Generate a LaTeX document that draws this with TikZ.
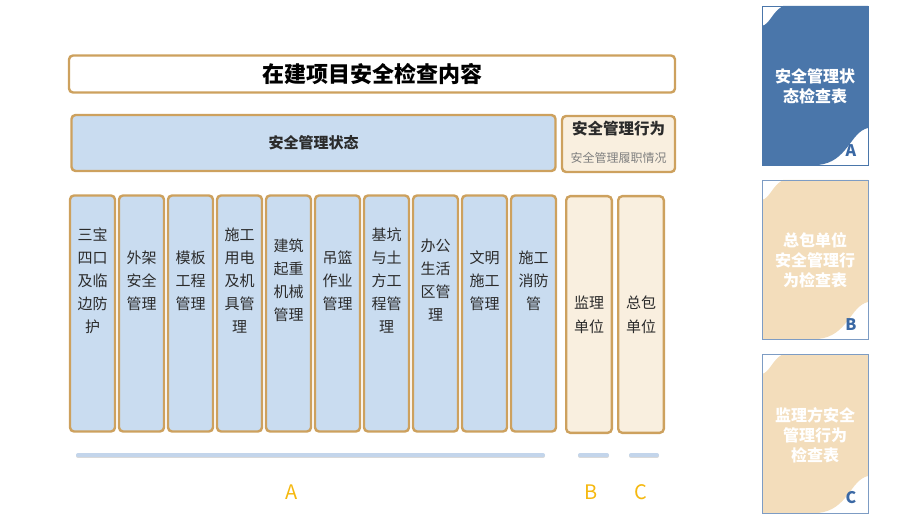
\documentclass[tikz,border=0pt]{standalone}
\usepackage{fontspec}
\setmainfont{Noto Sans CJK SC}
\usepackage{xcolor}
\usetikzlibrary{positioning}
\definecolor{gold}{HTML}{CDA15E}
\definecolor{paleblue}{HTML}{C9DCF0}
\definecolor{barblue}{HTML}{C3D5EB}
\definecolor{cream}{HTML}{F9EFDF}
\definecolor{steel}{HTML}{4A76AA}
\definecolor{wheat}{HTML}{F3DDBB}
\definecolor{frame}{HTML}{7D9CC4}
\definecolor{tagblue}{HTML}{3A68A4}
\definecolor{amber}{HTML}{F5B80F}
\definecolor{ink}{HTML}{2B2B2B}
\tikzset{
  panel/.style={rectangle,rounded corners=4pt,draw=gold,line width=2.4pt,
    inner sep=0pt,outer sep=0pt},
  headbox/.style={panel,fill=white,minimum width=606pt,minimum height=37pt,
    font=\bfseries\fontsize{22}{22}\selectfont,text=black},
  statebox/.style={panel,fill=paleblue,minimum width=484pt,minimum height=56pt,
    font=\bfseries\fontsize{15}{15}\selectfont,text=ink},
  actbox/.style={panel,fill=cream,minimum width=113pt,minimum height=56pt},
  acttitle/.style={font=\bfseries\fontsize{15.5}{15.5}\selectfont,text=ink},
  actnote/.style={font=\fontsize{12}{12}\selectfont,text=black!50},
  column/.style={panel,fill=paleblue,minimum width=45pt,minimum height=236pt},
  unitcol/.style={panel,fill=cream,minimum width=45.6pt,minimum height=236.6pt,
    align=center,font=\fontsize{15}{24}\selectfont,text=ink},
  coltext/.style={align=center,font=\fontsize{15}{23}\selectfont,text=ink},
  underbar/.style={line width=4pt,draw=barblue,line cap=round},
  undershade/.style={line width=4pt,draw=black!15,line cap=round},
  grouptag/.style={font=\fontsize{20}{20}\selectfont,text=amber},
  cardedge/.style={line width=0.8pt},
  cardtext/.style={align=center,text=white,font=\bfseries\fontsize{16}{20}\selectfont},
  cardtag/.style={text=tagblue,font=\bfseries\fontsize{16}{16}\selectfont}
}
\begin{document}
\begin{tikzpicture}[x=1pt,y=-1pt]
\useasboundingbox (0,0) rectangle (920,521);
% top boxes
\node[headbox] (head) at (372,74) {在建项目安全检查内容};
\node[statebox] (state) at (313.5,143) {安全管理状态};
\node[actbox] (act) at (618.5,144) {};
\node[acttitle] (acthead) at (618.5,129) {安全管理行为};
\node[actnote] (actsub) at (618.5,158) {安全管理履职情况};
% state columns
\node[column] (c1) at (92.5,313.5) {};
\node[column,right=4pt of c1] (c2) {};
\node[column,right=4pt of c2] (c3) {};
\node[column,right=4pt of c3] (c4) {};
\node[column,right=4pt of c4] (c5) {};
\node[column,right=4pt of c5] (c6) {};
\node[column,right=4pt of c6] (c7) {};
\node[column,right=4pt of c7] (c8) {};
\node[column,right=4pt of c8] (c9) {};
\node[column,right=4pt of c9] (c10) {};
\node[coltext] (t1) at ([yshift=33pt]c1.center) {三宝\\四口\\及临\\边防\\护};
\node[coltext] (t2) at ([yshift=33pt]c2.center) {外架\\安全\\管理};
\node[coltext] (t3) at ([yshift=33pt]c3.center) {模板\\工程\\管理};
\node[coltext] (t4) at ([yshift=33pt]c4.center) {施工\\用电\\及机\\具管\\理};
\node[coltext] (t5) at ([yshift=33pt]c5.center) {建筑\\起重\\机械\\管理};
\node[coltext] (t6) at ([yshift=33pt]c6.center) {吊篮\\作业\\管理};
\node[coltext] (t7) at ([yshift=33pt]c7.center) {基坑\\与土\\方工\\程管\\理};
\node[coltext] (t8) at ([yshift=33pt]c8.center) {办公\\生活\\区管\\理};
\node[coltext] (t9) at ([yshift=33pt]c9.center) {文明\\施工\\管理};
\node[coltext] (t10) at ([yshift=33pt]c10.center) {施工\\消防\\管};
% behaviour columns
\node[unitcol] (u1) at (589,314.5) {监理\\单位};
\node[unitcol,right=6.4pt of u1] (u2) {总包\\单位};
% group bars
\draw[undershade] (78,456) -- (543,456);
\draw[underbar] (78,455) -- (543,455);
\draw[undershade] (580,456) -- (607,456);
\draw[underbar] (580,455) -- (607,455);
\draw[undershade] (631,456) -- (657,456);
\draw[underbar] (631,455) -- (657,455);
\node[grouptag] (ga) at (292,492) {A};
\node[grouptag] (gb) at (591,492) {B};
\node[grouptag] (gc) at (641,492) {C};
% check sheets
\begin{scope}[shift={(762,6)}]
\fill[steel] (21,0) -- (106,0) -- (106,122) .. controls (88,126) and (86,156) .. (56,159)
  -- (0,159) -- (0,20) .. controls (8,18) and (10,6) .. (21,0) -- cycle;
\draw[cardedge,steel] (0,0) rectangle (106,159);
\node[cardtext] (sheetA) at (53,80) {安全管理状\\态检查表};
\node[cardtag] (tagA) at (89,145) {A};
\end{scope}
\begin{scope}[shift={(762,180)}]
\fill[wheat] (21,0) -- (106,0) -- (106,122) .. controls (88,126) and (86,156) .. (56,159)
  -- (0,159) -- (0,20) .. controls (8,18) and (10,6) .. (21,0) -- cycle;
\draw[cardedge,frame] (0,0) rectangle (106,159);
\node[cardtext] (sheetB) at (53,80) {总包单位\\安全管理行\\为检查表};
\node[cardtag] (tagB) at (89,145) {B};
\end{scope}
\begin{scope}[shift={(762,354)}]
\fill[wheat] (21,0) -- (106,0) -- (106,122) .. controls (88,126) and (86,156) .. (56,159)
  -- (0,159) -- (0,20) .. controls (8,18) and (10,6) .. (21,0) -- cycle;
\draw[cardedge,frame] (0,0) rectangle (106,159);
\node[cardtext] (sheetC) at (53,81) {监理方安全\\管理行为\\检查表};
\node[cardtag] (tagC) at (89,144) {C};
\end{scope}
\end{tikzpicture}
\end{document}
